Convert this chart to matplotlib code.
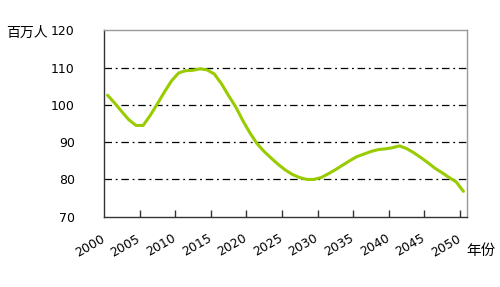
import numpy as np
import matplotlib
matplotlib.use('Agg')
import matplotlib.pyplot as plt
import matplotlib.transforms as mtransforms

plt.rcParams['font.family'] = ['DejaVu Sans', 'Noto Sans CJK SC']

# datos (millones de personas por año)
anios = list(range(2000, 2051))
poblacion = [102.6, 100.5, 98.2, 96.0, 94.5, 94.5, 97.2, 100.3, 103.5, 106.5,
             108.6, 109.2, 109.3, 109.7, 109.4, 108.3, 105.7, 102.5, 99.5, 95.8,
             92.5, 89.6, 87.5, 85.7, 84.0, 82.5, 81.3, 80.5, 80.0, 80.0,
             80.5, 81.5, 82.6, 83.8, 85.0, 86.1, 86.8, 87.5, 88.0, 88.2,
             88.5, 89.0, 88.3, 87.2, 85.9, 84.5, 83.0, 81.8, 80.5, 79.3,
             76.8]
etiquetas_x = [str(a) for a in range(2000, 2051, 5)]
ticks_y = [70, 80, 90, 100, 110, 120]

fig = plt.figure(figsize=(5, 2.87), dpi=100)
ax = fig.add_axes([0.208, 0.245, 0.726, 0.649])

ax.plot(anios, poblacion, color='#99cc00', linewidth=2.2, solid_capstyle='round', zorder=3)

ax.set_xlim(1999.5, 2050.5)
ax.set_ylim(70, 120)

# lineas de division punto-raya
for v in ticks_y[1:-1]:
    ax.axhline(v, color='black', linewidth=0.9, linestyle=(0, (6, 3, 1.5, 3)), zorder=1)

ax.set_yticks(ticks_y)
ax.set_yticklabels([str(v) for v in ticks_y], fontsize=9)
ax.tick_params(axis='y', length=0, pad=21)

ax.set_xticks([int(e) for e in etiquetas_x])
ax.set_xticklabels(etiquetas_x, rotation=30, ha='right', fontsize=9,
                   rotation_mode='anchor')
ax.tick_params(axis='x', length=0, pad=11)
desplaza = mtransforms.ScaledTranslation(-0.07, 0, fig.dpi_scale_trans)
for lab in ax.get_xticklabels():
    lab.set_transform(lab.get_transform() + desplaza)
ax.set_xticks(np.arange(2004.5, 2050, 5), minor=True)
ax.tick_params(axis='x', which='minor', direction='in', length=5, color='#333333', width=1)

for lado in ['top', 'right']:
    ax.spines[lado].set_color('#999999')
    ax.spines[lado].set_linewidth(1)
for lado in ['left', 'bottom']:
    ax.spines[lado].set_color('#333333')
    ax.spines[lado].set_linewidth(1)

fig.text(0.012, 0.87, '百万人', fontsize=10, family=['Noto Sans CJK SC', 'DejaVu Sans'])
fig.text(0.932, 0.11, '年份', fontsize=10.5, family=['Noto Sans CJK SC', 'DejaVu Sans'])

fig.savefig('out.png', dpi=100)
